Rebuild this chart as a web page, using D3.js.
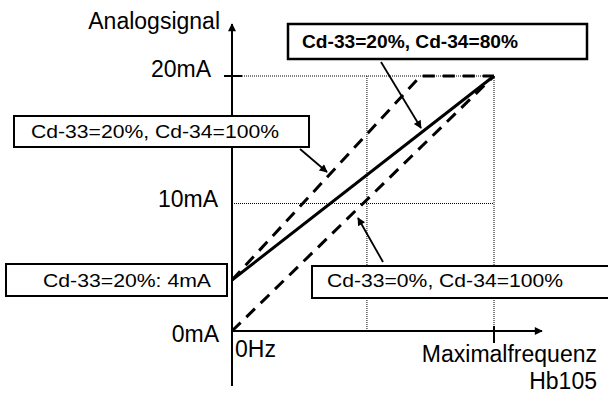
<!DOCTYPE html>
<html><head><meta charset="utf-8">
<script src="https://cdn.jsdelivr.net/npm/d3@7"></script>
<style>body{margin:0;background:#fff}svg{display:block;font-family:"Liberation Sans",Arial,sans-serif}</style>
</head><body><svg id="c" width="608" height="394"></svg>
<script>
// ---- data ----
const yTickValues = [0, 10, 20];
const yTickLabels = ["0mA", "10mA", "20mA"];
const xTickValues = [0, 100];
const xTickLabels = ["0Hz", "Maximalfrequenz"];
const gridX = [51.5, 100];
const gridY = [10, 20];
const solidLine = [[0, 4], [100, 20]];             // Cd-33=20%, Cd-34=80%
const dashedUpper = [[0, 4], [72, 20], [100, 20]]; // Cd-33=20%, Cd-34=100%
const dashedLower = [[0, 0], [100, 20]];           // Cd-33=0%, Cd-34=100%
const yTitle = "Analogsignal";
const caption = "Hb105";
const notes = [
  {text: "Cd-33=20%, Cd-34=80%", bold: true},
  {text: "Cd-33=20%, Cd-34=100%", bold: false},
  {text: "Cd-33=20%: 4mA", bold: false},
  {text: "Cd-33=0%, Cd-34=100%", bold: false}
];

// ---- layout ----
const svg = d3.select("#c");
const x = d3.scaleLinear().domain([0, 100]).range([232, 494]);
const y = d3.scaleLinear().domain([0, 20]).range([331, 76]);

const defs = svg.append("defs");
defs.append("marker").attr("id", "ah").attr("viewBox", "0 0 10 10")
  .attr("refX", 9).attr("refY", 5).attr("markerWidth", 11).attr("markerHeight", 8)
  .attr("markerUnits", "userSpaceOnUse").attr("orient", "auto")
  .append("path").attr("d", "M0,0L10,5L0,10Z").attr("fill", "#000");

// grid (dotted)
const g = svg.append("g").attr("stroke", "#000").attr("stroke-width", 1).attr("stroke-dasharray", "1,1");
gridX.forEach(v => g.append("line").attr("x1", x(v)).attr("x2", x(v)).attr("y1", y(20)).attr("y2", y(0)));
gridY.forEach(v => g.append("line").attr("x1", x(0)).attr("x2", x(100)).attr("y1", y(v)).attr("y2", y(v)));

// axes
svg.append("line").attr("x1", x(0)).attr("x2", 542).attr("y1", y(0)).attr("y2", y(0))
  .attr("stroke", "#000").attr("stroke-width", 2).attr("marker-end", "url(#ah)");
svg.append("line").attr("x1", x(0)).attr("x2", x(0)).attr("y1", 386).attr("y2", 24)
  .attr("stroke", "#000").attr("stroke-width", 2).attr("marker-end", "url(#ah)");
// ticks
svg.append("line").attr("x1", x(0) - 8).attr("x2", x(0) + 10).attr("y1", y(20)).attr("y2", y(20)).attr("stroke", "#000").attr("stroke-width", 2);
svg.append("line").attr("x1", x(100)).attr("x2", x(100)).attr("y1", y(0) - 5).attr("y2", y(0) + 12).attr("stroke", "#000").attr("stroke-width", 2);

// y labels
const yBase = {0: 342, 10: 207, 20: 76.5};
const yRight = {0: 219, 10: 218, 20: 211};
svg.selectAll(".yl").data(yTickValues).join("text").attr("class", "yl")
  .attr("x", d => yRight[d]).attr("y", d => yBase[d])
  .attr("text-anchor", "end").attr("font-size", 23).text((d, i) => yTickLabels[i]);
svg.append("text").attr("x", 220).attr("y", 29).attr("text-anchor", "end").attr("font-size", 23).text(yTitle);
// x labels
svg.append("text").attr("x", x(xTickValues[0]) + 3).attr("y", 357).attr("font-size", 23).text(xTickLabels[0]);
svg.append("text").attr("x", 597).attr("y", 362).attr("text-anchor", "end").attr("font-size", 23).text(xTickLabels[1]);
svg.append("text").attr("x", 597).attr("y", 389).attr("text-anchor", "end").attr("font-size", 23).text(caption);

// series
const line = d3.line().x(d => x(d[0])).y(d => y(d[1]));
svg.append("path").attr("d", line(dashedUpper)).attr("fill", "none").attr("stroke", "#000")
  .attr("stroke-width", 3).attr("stroke-dasharray", "12,8");
svg.append("path").attr("d", line(dashedLower)).attr("fill", "none").attr("stroke", "#000")
  .attr("stroke-width", 3).attr("stroke-dasharray", "12,8");
svg.append("path").attr("d", line(solidLine)).attr("fill", "none").attr("stroke", "#000")
  .attr("stroke-width", 3);

// annotation boxes
const boxes = [
  {x: 288, y: 24, w: 299, h: 35, tx: 302, ty: 48, tw: 216, sw: 2.5},
  {x: 14, y: 116, w: 295, h: 31, tx: 31, ty: 138, tw: 248, sw: 2},
  {x: 6, y: 264, w: 221, h: 32, tx: 43, ty: 287, tw: 168, sw: 2},
  {x: 312, y: 266, w: 300, h: 32, tx: 327, ty: 287, tw: 236, sw: 2}
];
boxes.forEach((b, i) => {
  svg.append("rect").attr("x", b.x).attr("y", b.y).attr("width", b.w).attr("height", b.h)
    .attr("fill", "#fff").attr("stroke", "#000").attr("stroke-width", b.sw);
  svg.append("text").attr("x", b.tx).attr("y", b.ty)
    .attr("font-size", 18.5).attr("font-weight", notes[i].bold ? "bold" : "normal")
    .attr("textLength", b.tw).attr("lengthAdjust", "spacingAndGlyphs").text(notes[i].text);
});

// arrows
const arrows = [[381, 62, 421, 128], [300, 149, 327, 172], [383, 262, 358, 218]];
arrows.forEach(a => svg.append("line").attr("x1", a[0]).attr("y1", a[1]).attr("x2", a[2]).attr("y2", a[3])
  .attr("stroke", "#000").attr("stroke-width", 1.8).attr("marker-end", "url(#ah)"));
</script></body></html>
